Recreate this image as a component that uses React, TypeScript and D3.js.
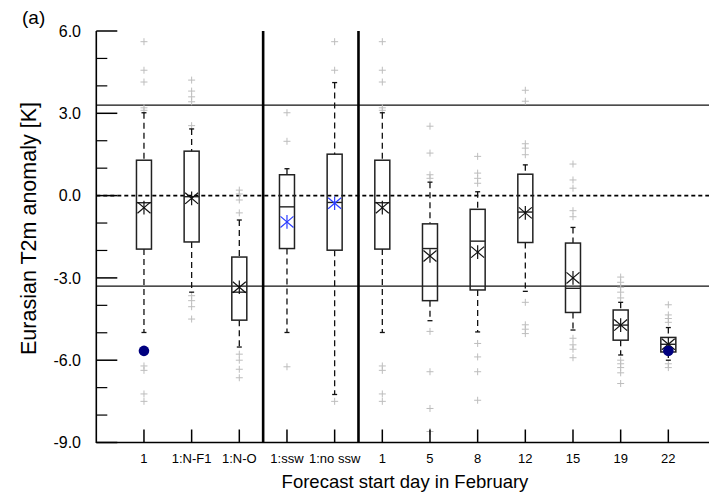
import React from "react";
import * as d3 from "d3";

// Box-plot statistics per forecast group (K)
const categories = ["1", "1:N-F1", "1:N-O", "1:ssw", "1:no ssw", "1", "5", "8", "12", "15", "19", "22"];
const whiskerHigh = [3.02, 2.43, -0.89, 0.98, 4.12, 3.02, 0.49, 0.14, 1.12, -1.16, -3.89, -4.81];
const quartile3 = [1.29, 1.62, -2.24, 0.76, 1.51, 1.29, -1.03, -0.5, 0.78, -1.73, -4.17, -5.17];
const medians = [-0.26, -0.04, -3.52, -0.41, -0.25, -0.26, -1.93, -1.66, -0.6, -3.38, -4.72, -5.42];
const quartile1 = [-1.95, -1.69, -4.54, -1.93, -1.99, -1.95, -3.83, -3.44, -1.71, -4.26, -5.27, -5.7];
const whiskerLow = [-4.99, -3.52, -5.52, -4.99, -7.25, -4.99, -4.56, -4.97, -3.49, -4.9, -5.81, -6.0];
const means = [-0.44, -0.1, -3.34, -0.96, -0.28, -0.44, -2.2, -2.06, -0.63, -3.0, -4.72, -5.42];
const outliers: number[][] = [
  [5.61, 4.57, 4.14, 3.2, 3.11, -6.21, -6.37, -7.23, -7.5],
  [4.21, 3.81, 3.6, 3.42, 2.55, -3.65, -3.83, -4.05, -4.5],
  [0.2, 0.06, -0.16, -0.63, -5.78, -6.0, -6.33, -6.64],
  [3.02, 1.98, -6.24],
  [5.61, 4.57, -7.5],
  [5.61, 4.57, 4.14, 3.2, 3.11, -6.21, -6.37, -7.23, -7.5],
  [2.53, 1.55, 0.76, 0.63, -4.95, -6.42, -7.76, -8.6],
  [1.43, 0.82, 0.63, 0.45, -5.39, -5.88, -6.42, -7.46],
  [3.84, 3.44, 1.89, 1.73, 1.49, -3.89, -4.71, -4.87, -5.03],
  [1.15, 0.57, 0.27, -0.55, -0.77, -5.2, -5.44, -5.6, -5.91],
  [-2.97, -3.16, -3.34, -3.52, -3.73, -6.0, -6.13, -6.27, -6.46, -6.85],
  [-3.98, -4.35, -4.48, -4.62, -6.13, -6.27],
];
// groups whose mean marker is highlighted
const highlightedMeans = [3, 4];
// observed anomaly dots
const observedIndex = [0, 11];
const observedValue = [-5.66, -5.66];
// reference lines
const thresholds = [3.3, -3.3];
const separators = [3.5, 5.5];
const yTicks = [6, 3, 0, -3, -6, -9];
const yMinorTicks = [5, 4, 2, 1, -1, -2, -4, -5, -7, -8];

const W = 709;
const H = 494;
const left = 96.3;
const top = 31;
const bottom = 442.5;

export default function App() {
  const x = d3.scaleLinear().domain([0, 13]).range([left, 716]);
  const y = d3.scaleLinear().domain([6, -9]).range([top, bottom]);
  const boxW = 15;
  const font = "'Liberation Sans', Arial, Helvetica, sans-serif";

  const star = (cx: number, cy: number, r: number, color: string, key: string) => {
    const dx = r;
    const dy = r * 0.85;
    return (
      <g key={key} stroke={color} strokeWidth={1.2}>
        <line x1={cx - dx} y1={cy - dy} x2={cx + dx} y2={cy + dy} />
        <line x1={cx - dx} y1={cy + dy} x2={cx + dx} y2={cy - dy} />
        <line x1={cx} y1={cy - r * 1.05} x2={cx} y2={cy + r * 1.05} />
      </g>
    );
  };

  return (
    <svg
      width={W}
      height={H}
      style={{ position: "fixed", left: 0, top: 0, background: "#fff" }}
      fontFamily={font}
    >
      <rect x={0} y={0} width={W} height={H} fill="#fff" />

      {/* reference lines */}
      {thresholds.map((t, i) => (
        <line key={"t" + i} x1={left} x2={W} y1={y(t)} y2={y(t)} stroke="#111" strokeWidth={1.2} />
      ))}
      <line x1={left} x2={W} y1={y(0)} y2={y(0)} stroke="#000" strokeWidth={1.6} strokeDasharray="4,3" />

      {/* outliers */}
      {outliers.map((vals, i) =>
        vals.map((v, j) => {
          const cx = x(i + 1);
          const cy = y(v);
          return (
            <g key={`o${i}-${j}`} stroke="#bdbdbd" strokeWidth={1}>
              <line x1={cx - 3.5} x2={cx + 3.5} y1={cy} y2={cy} />
              <line x1={cx} x2={cx} y1={cy - 3.5} y2={cy + 3.5} />
            </g>
          );
        })
      )}

      {/* boxes and whiskers */}
      {categories.map((_, i) => {
        const cx = x(i + 1);
        return (
          <g key={"b" + i}>
            <line x1={cx} x2={cx} y1={y(whiskerHigh[i])} y2={y(quartile3[i])} stroke="#111" strokeWidth={1.3} strokeDasharray="6,4" />
            <line x1={cx} x2={cx} y1={y(quartile1[i])} y2={y(whiskerLow[i])} stroke="#111" strokeWidth={1.3} strokeDasharray="6,4" />
            <line x1={cx - 2.5} x2={cx + 2.5} y1={y(whiskerHigh[i])} y2={y(whiskerHigh[i])} stroke="#111" strokeWidth={1.3} />
            <line x1={cx - 2.5} x2={cx + 2.5} y1={y(whiskerLow[i])} y2={y(whiskerLow[i])} stroke="#111" strokeWidth={1.3} />
            <rect
              x={cx - boxW / 2}
              y={y(quartile3[i])}
              width={boxW}
              height={y(quartile1[i]) - y(quartile3[i])}
              fill="none"
              stroke="#222"
              strokeWidth={1.5}
            />
            <line x1={cx - boxW / 2} x2={cx + boxW / 2} y1={y(medians[i])} y2={y(medians[i])} stroke="#222" strokeWidth={1.4} />
            {star(cx, y(means[i]), 6.5, highlightedMeans.includes(i) ? "#2a3cff" : "#111", "m" + i)}
          </g>
        );
      })}

      {/* observed values */}
      {observedIndex.map((c, i) => (
        <circle key={"obs" + i} cx={x(c + 1)} cy={y(observedValue[i])} r={5.3} fill="#00007f" />
      ))}

      {/* group separators */}
      {separators.map((s, i) => (
        <line key={"s" + i} x1={x(s)} x2={x(s)} y1={top} y2={bottom} stroke="#000" strokeWidth={2.6} />
      ))}

      {/* left axis */}
      <line x1={left} x2={left} y1={top} y2={bottom + 0.6} stroke="#000" strokeWidth={1.6} />
      {yTicks.map((t) => (
        <g key={"yt" + t}>
          <line x1={left} x2={left + 21} y1={y(t)} y2={y(t)} stroke="#000" strokeWidth={1.5} />
          <text x={81} y={y(t)} dy="0.36em" textAnchor="end" fontSize={16} fill="#000">
            {d3.format(".1f")(t).replace("−", "-")}
          </text>
        </g>
      ))}
      {yMinorTicks.map((t) => (
        <line key={"ym" + t} x1={left} x2={left + 11} y1={y(t)} y2={y(t)} stroke="#000" strokeWidth={1.2} />
      ))}

      {/* bottom axis */}
      <line x1={left} x2={W} y1={bottom} y2={bottom} stroke="#000" strokeWidth={1.6} />
      {categories.map((c, i) => (
        <g key={"xt" + i}>
          <line x1={x(i + 1)} x2={x(i + 1)} y1={bottom} y2={bottom - 13} stroke="#000" strokeWidth={1.5} />
          <text x={x(i + 1)} y={463} textAnchor="middle" fontSize={13} fill="#000">
            {c}
          </text>
        </g>
      ))}

      {/* titles */}
      <text x={405} y={488} textAnchor="middle" fontSize={18.5} fill="#000">
        Forecast start day in February
      </text>
      <text
        transform={`translate(36, ${228.5}) rotate(-90)`}
        textAnchor="middle"
        fontSize={21.5}
        fill="#000"
      >
        Eurasian T2m anomaly [K]
      </text>
      <text x={22} y={24} fontSize={19} fill="#000">
        (a)
      </text>
    </svg>
  );
}
